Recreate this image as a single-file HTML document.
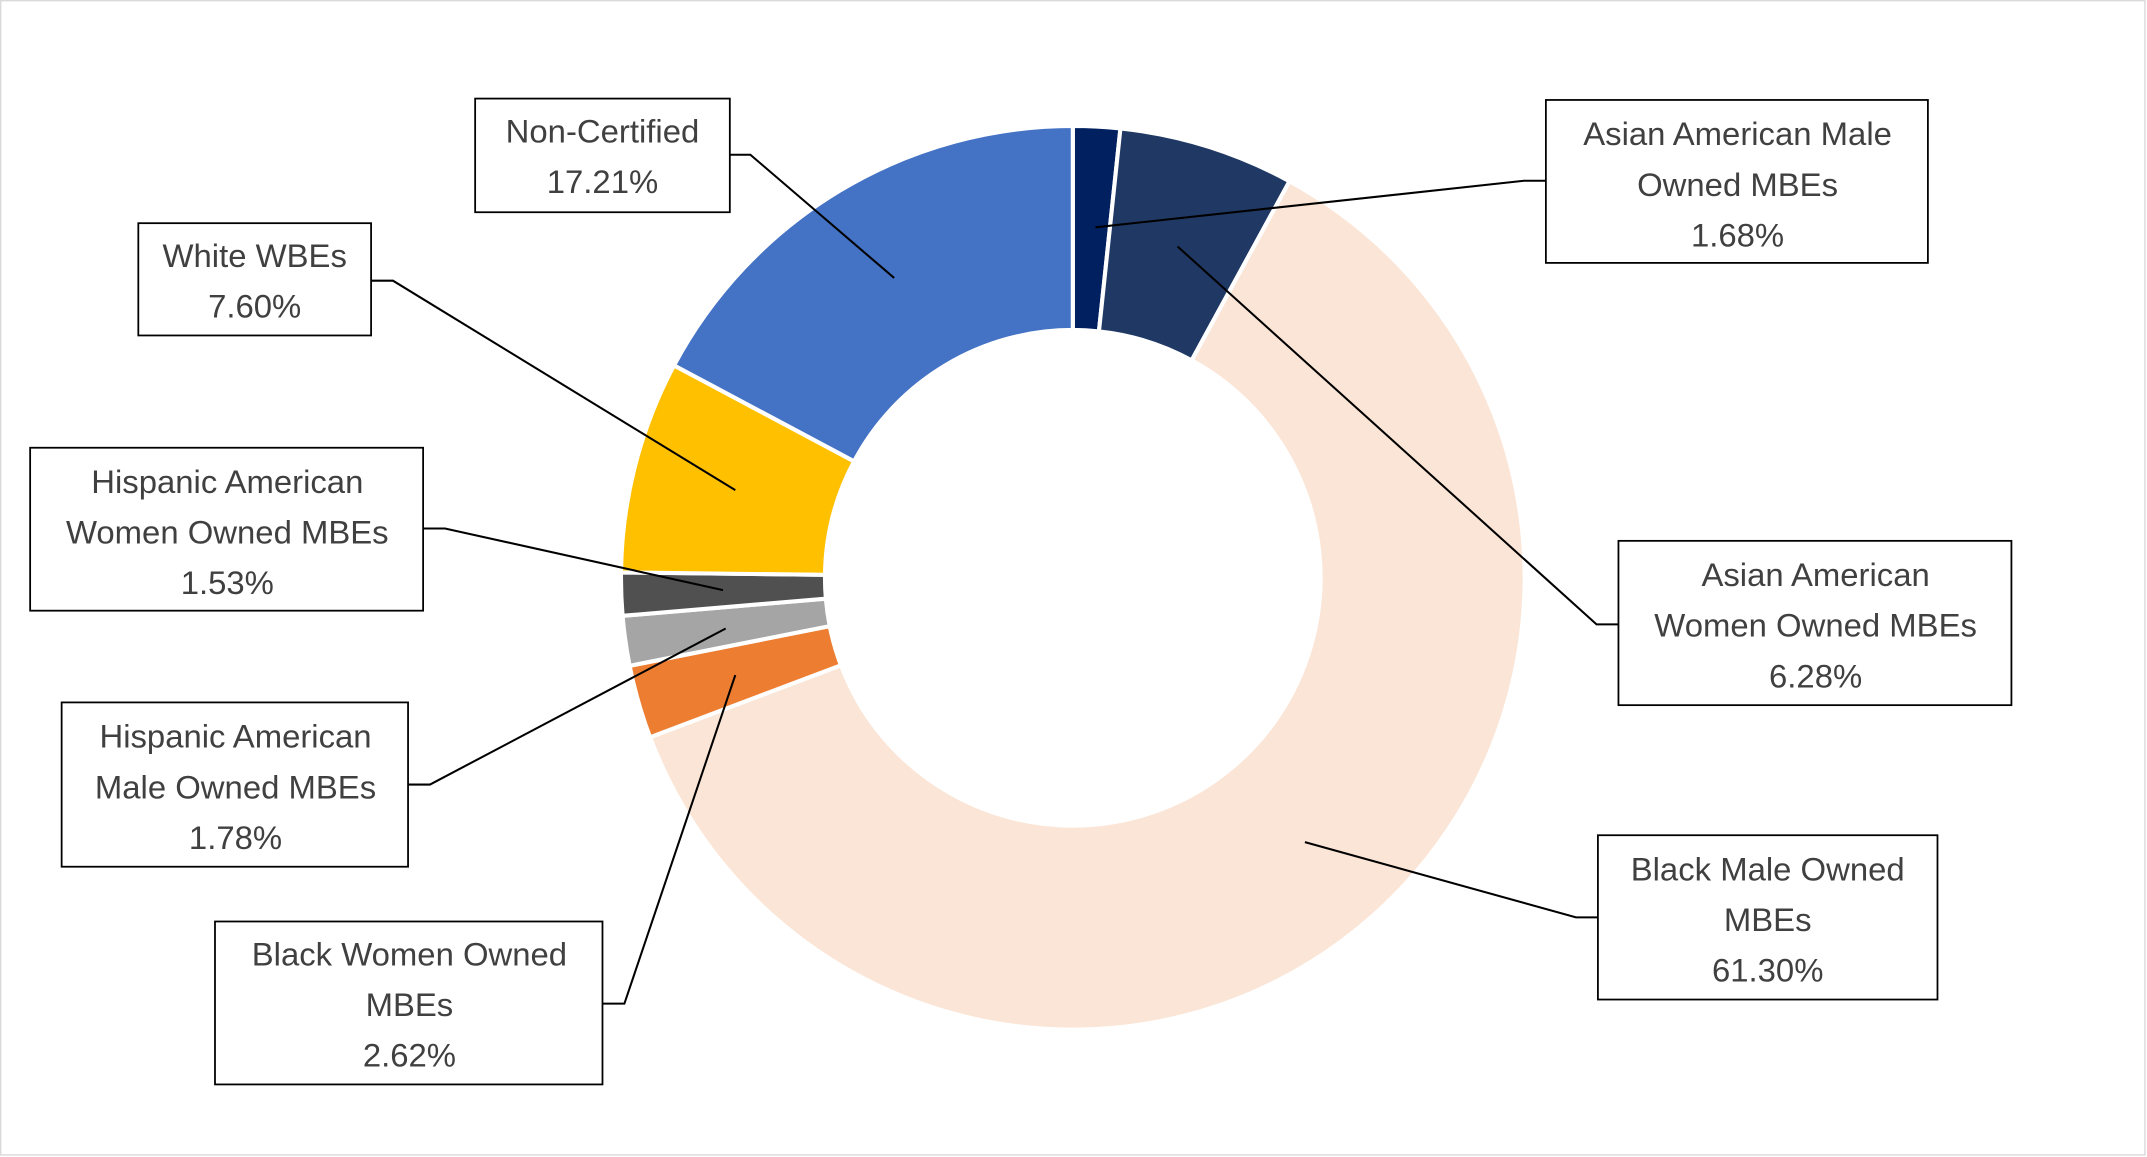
<!DOCTYPE html>
<html><head><meta charset="utf-8"><style>
html,body{margin:0;padding:0;background:#fff;}
svg{display:block;}
text{font-family:"Liberation Sans",sans-serif;font-size:24px;fill:#404040;text-anchor:middle;}
</style></head><body>
<svg id="s" width="2147" height="1157" viewBox="0 0 1568 845" xmlns="http://www.w3.org/2000/svg">
<rect x="0.5" y="0.5" width="1566" height="843" fill="#fff" stroke="#d9d9d9" stroke-width="1"/>
<g id="slices"></g>
<g fill="#fff" stroke="#000" stroke-width="1.3">
<rect x="347" y="72" width="186" height="83"/>
<rect x="101" y="163" width="170" height="82"/>
<rect x="22" y="327" width="287" height="119"/>
<rect x="45" y="513" width="253" height="120"/>
<rect x="157" y="673" width="283" height="119"/>
<rect x="1129" y="73" width="279" height="119"/>
<rect x="1182" y="395" width="287" height="120"/>
<rect x="1167" y="610" width="248" height="120"/>
</g>
<g fill="none" stroke="#000" stroke-width="1.5">
<polyline points="533,113 548,113 653,203"/>
<polyline points="271,205 287,205 537,358"/>
<polyline points="309,386 325,386 528,431"/>
<polyline points="298,573 314,573 530,459"/>
<polyline points="440,733 456,733 537,493"/>
<polyline points="1129,132 1113,132 800,166"/>
<polyline points="1182,456 1166,456 860,180"/>
<polyline points="1167,670 1151,670 953,615"/>
</g>
<text x="440" y="104">Non-Certified</text><text x="440" y="141">17.21%</text>
<text x="186" y="195">White WBEs</text><text x="186" y="232">7.60%</text>
<text x="166" y="360">Hispanic American</text><text x="166" y="397">Women Owned MBEs</text><text x="166" y="434">1.53%</text>
<text x="172" y="546">Hispanic American</text><text x="172" y="583">Male Owned MBEs</text><text x="172" y="620">1.78%</text>
<text x="299" y="705">Black Women Owned</text><text x="299" y="742">MBEs</text><text x="299" y="779">2.62%</text>
<text x="1269" y="106">Asian American Male</text><text x="1269" y="143">Owned MBEs</text><text x="1269" y="180">1.68%</text>
<text x="1326" y="428">Asian American</text><text x="1326" y="465">Women Owned MBEs</text><text x="1326" y="502">6.28%</text>
<text x="1291" y="643">Black Male Owned</text><text x="1291" y="680">MBEs</text><text x="1291" y="717">61.30%</text>
</svg>
<script>
var cx=783.5,cy=422,R=330,r=181;
var d=[[1.68,"#002060"],[6.28,"#1F3864"],[61.30,"#FBE5D6"],[2.62,"#ED7D31"],[1.78,"#A5A5A5"],[1.53,"#505050"],[7.60,"#FFC000"],[17.21,"#4472C4"]];
var a=0,h="";
function p(rr,t){t=t*Math.PI/180;return (cx+rr*Math.sin(t)).toFixed(2)+","+(cy-rr*Math.cos(t)).toFixed(2);}
d.forEach(function(s){var b=a+s[0]*3.6;var l=(b-a)>180?1:0;
h+='<path d="M'+p(R,a)+' A'+R+','+R+' 0 '+l+' 1 '+p(R,b)+' L'+p(r,b)+' A'+r+','+r+' 0 '+l+' 0 '+p(r,a)+' Z" fill="'+s[1]+'" stroke="#fff" stroke-width="3"/>';a=b;});
document.getElementById("slices").innerHTML=h;
</script>
</body></html>
